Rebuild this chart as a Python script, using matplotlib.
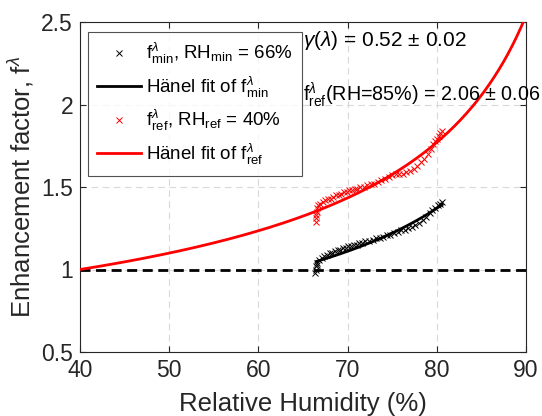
import numpy as np
import matplotlib
matplotlib.use("Agg")
import matplotlib.pyplot as plt

plt.rcParams['font.family'] = ['Liberation Sans', 'DejaVu Sans']
plt.rcParams['mathtext.fontset'] = 'custom'
plt.rcParams['mathtext.rm'] = 'Liberation Sans'
plt.rcParams['mathtext.it'] = 'Liberation Sans:italic'
plt.rcParams['mathtext.bf'] = 'Liberation Sans:bold'

# ---- data ----
rh_min_pts = [66.4, 66.45, 66.5, 66.55, 66.6, 66.8, 67.1, 67.4, 67.7, 68.0, 68.3, 68.6, 68.9,
              69.2, 69.5, 69.8, 70.1, 70.4, 70.7, 71.0, 71.3, 71.6, 72.0, 72.4, 72.8, 73.2,
              73.6, 74.0, 74.4, 74.8, 75.2, 75.6, 76.0, 76.4, 76.8, 77.2, 77.6, 78.0, 78.4,
              78.8, 79.2, 79.5, 79.8, 80.1, 80.4, 80.6]
f_min_pts = [0.98, 1.00, 1.02, 1.03, 1.04, 1.06, 1.07, 1.08, 1.09, 1.10, 1.10, 1.11, 1.12,
             1.12, 1.13, 1.13, 1.14, 1.14, 1.15, 1.15, 1.16, 1.16, 1.17, 1.17, 1.18, 1.19,
             1.19, 1.20, 1.21, 1.21, 1.22, 1.23, 1.24, 1.24, 1.25, 1.26, 1.27, 1.28, 1.30,
             1.32, 1.34, 1.36, 1.37, 1.39, 1.40, 1.41]

rh_ref_pts = [66.45, 66.5, 66.5, 66.55, 66.6, 66.7, 66.9, 67.2, 67.5, 67.8, 68.1, 68.4, 68.7,
              69.0, 69.3, 69.6, 69.9, 70.2, 70.5, 70.8, 71.1, 71.4, 71.8, 72.2, 72.6, 73.0,
              73.4, 73.8, 74.2, 74.6, 75.0, 75.4, 75.8, 76.2, 76.6, 77.0, 77.4, 77.8, 78.2,
              78.6, 79.0, 79.3, 79.6, 79.8, 80.0, 80.2, 80.4, 80.6]
f_ref_pts = [1.29, 1.31, 1.33, 1.35, 1.37, 1.39, 1.40, 1.41, 1.42, 1.43, 1.43, 1.44, 1.45,
             1.45, 1.46, 1.47, 1.47, 1.48, 1.48, 1.49, 1.49, 1.50, 1.50, 1.51, 1.52, 1.52,
             1.53, 1.54, 1.55, 1.56, 1.57, 1.58, 1.58, 1.58, 1.59, 1.60, 1.61, 1.63, 1.65,
             1.67, 1.70, 1.73, 1.76, 1.78, 1.79, 1.81, 1.83, 1.84]

gamma = 0.52          # Hänel exponent
rh_ref = 40.0         # reference RH of red fit
rh_fit_min0 = 63.3    # effective RH where black fit equals 1
fit_ref_range = (40.0, 90.0)
fit_min_range = (66.5, 80.6)

xticks = [40, 50, 60, 70, 80, 90]
yticks = [0.5, 1, 1.5, 2, 2.5]
ytick_labels = ['0.5', '1', '1.5', '2', '2.5']

def haenel(rh, rh0, g):
    return ((1 - rh / 100.0) / (1 - rh0 / 100.0)) ** (-g)

fig = plt.figure(figsize=(5.42, 4.16), dpi=100)
ax = fig.add_axes([80 / 542, 1 - 352 / 416, 446 / 542, 330 / 416])

ax.set_xlim(40, 90)
ax.set_ylim(0.5, 2.5)

ax.grid(True, linestyle=(0, (6, 4)), color='#d9d9d9', linewidth=0.8)
ax.set_axisbelow(True)

ax.axhline(1.0, color='black', linestyle=(0, (3.6, 2.0)), linewidth=2.0, zorder=2)

xr = np.linspace(*fit_ref_range, 300)
xm = np.linspace(*fit_min_range, 200)

ax.plot(rh_min_pts, f_min_pts, linestyle='none', marker='x', color='black',
        markersize=4.5, markeredgewidth=0.7, zorder=3,
        label=r'f$^{\lambda}_{\mathregular{min}}$, RH$_{\mathregular{min}}$ = 66%')
ax.plot(xm, haenel(xm, rh_fit_min0, gamma), color='black', linewidth=2.0, zorder=4,
        label=r'Hänel fit of f$^{\lambda}_{\mathregular{min}}$')
ax.plot(rh_ref_pts, f_ref_pts, linestyle='none', marker='x', color='red',
        markersize=4.5, markeredgewidth=0.7, zorder=3,
        label=r'f$^{\lambda}_{\mathregular{ref}}$, RH$_{\mathregular{ref}}$ = 40%')
ax.plot(xr, haenel(xr, rh_ref, gamma), color='red', linewidth=2.0, zorder=4,
        label=r'Hänel fit of f$^{\lambda}_{\mathregular{ref}}$')

ax.set_xticks(xticks)
ax.set_yticks(yticks)
ax.set_yticklabels(ytick_labels)
ax.tick_params(direction='in', top=True, right=True, labelsize=16.5, colors='#262626',
               length=4, width=0.8)
ax.tick_params(axis='x', pad=5)
ax.tick_params(axis='y', pad=5)
for s in ax.spines.values():
    s.set_color('#262626')
    s.set_linewidth(0.8)

ax.set_xlabel('Relative Humidity (%)', fontsize=18.5, color='#262626', labelpad=7)
ax.set_ylabel(r'Enhancement factor, f$^{\lambda}$', fontsize=18.5, color='#262626', labelpad=4)

fig.text(303 / 542, 1 - 40 / 416, r'$\gamma(\lambda)$ = 0.52 $\pm$ 0.02', fontsize=15,
         va='center', ha='left', color='black')
fig.text(303 / 542, 1 - 95 / 416, r'f$^{\lambda}_{\mathregular{ref}}$(RH=85%) = 2.06 $\pm$ 0.06',
         fontsize=14.2, va='center', ha='left', color='black')

leg = ax.legend(loc='upper left', bbox_to_anchor=((88 - 80) / 446, 1 - (32 - 22) / 330),
                fontsize=13.5, frameon=True, fancybox=False, edgecolor='#262626',
                handlelength=2.3, handletextpad=0.3, borderpad=0.5, labelspacing=0.44,
                borderaxespad=0)
leg.get_frame().set_linewidth(0.8)

fig.savefig('out.png', dpi=100)
